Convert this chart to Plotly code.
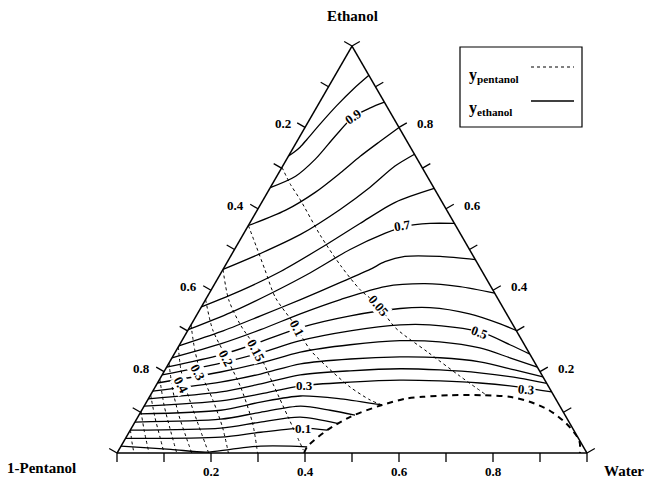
import plotly.graph_objects as go

# ---------------- data ----------------
# y_ethanol contours (solid): water fraction / ethanol fraction along each line
ye_levels = [0.95, 0.9, 0.85, 0.8, 0.75, 0.7, 0.65, 0.6, 0.55, 0.5, 0.45, 0.4, 0.35, 0.3, 0.25, 0.2, 0.15, 0.1, 0.05]

ye95_w = [0.000, 0.007, 0.014, 0.019, 0.028, 0.041, 0.056, 0.072]
ye95_e = [0.730, 0.739, 0.752, 0.771, 0.808, 0.854, 0.895, 0.928]
ye90_w = [0.000, 0.040, 0.061, 0.075, 0.090, 0.115, 0.138]
ye90_e = [0.652, 0.680, 0.722, 0.779, 0.826, 0.848, 0.862]
ye85_w = [0.000, 0.060, 0.102, 0.131, 0.153, 0.177, 0.200]
ye85_e = [0.559, 0.596, 0.641, 0.688, 0.729, 0.766, 0.800]
ye80_w = [0.000, 0.060, 0.122, 0.176, 0.212, 0.239, 0.266]
ye80_e = [0.451, 0.490, 0.537, 0.599, 0.653, 0.705, 0.734]
ye75_w = [0.000, 0.064, 0.125, 0.181, 0.235, 0.284, 0.350]
ye75_e = [0.359, 0.399, 0.446, 0.503, 0.564, 0.616, 0.650]
ye70_w = [0.000, 0.069, 0.131, 0.190, 0.246, 0.301, 0.334, 0.384, 0.436]
ye70_e = [0.303, 0.345, 0.392, 0.443, 0.500, 0.540, 0.557, 0.564, 0.564]
ye65_w = [0.000, 0.072, 0.137, 0.202, 0.266, 0.313, 0.335, 0.371, 0.446, 0.525]
ye65_e = [0.263, 0.298, 0.337, 0.377, 0.419, 0.451, 0.470, 0.483, 0.483, 0.475]
ye60_w = [0.000, 0.086, 0.154, 0.219, 0.287, 0.366, 0.447, 0.525, 0.607]
ye60_e = [0.234, 0.268, 0.303, 0.342, 0.377, 0.409, 0.416, 0.409, 0.393]
ye55_w = [0.000, 0.100, 0.169, 0.236, 0.328, 0.425, 0.487, 0.579, 0.655, 0.699]
ye55_e = [0.211, 0.241, 0.273, 0.308, 0.337, 0.355, 0.357, 0.342, 0.318, 0.301]
ye50_w = [0.000, 0.110, 0.182, 0.252, 0.346, 0.445, 0.508, 0.623, 0.703, 0.757]
ye50_e = [0.192, 0.221, 0.246, 0.276, 0.300, 0.315, 0.315, 0.298, 0.266, 0.243]
ye45_w = [0.000, 0.121, 0.195, 0.266, 0.363, 0.464, 0.550, 0.643, 0.719, 0.789]
ye45_e = [0.172, 0.199, 0.221, 0.248, 0.266, 0.276, 0.273, 0.258, 0.234, 0.211]
ye40_w = [0.000, 0.133, 0.208, 0.281, 0.381, 0.484, 0.570, 0.660, 0.744, 0.813]
ye40_e = [0.152, 0.174, 0.194, 0.219, 0.231, 0.236, 0.234, 0.224, 0.204, 0.187]
ye35_w = [0.000, 0.146, 0.221, 0.294, 0.395, 0.499, 0.585, 0.673, 0.764, 0.829]
ye35_e = [0.133, 0.150, 0.170, 0.192, 0.202, 0.207, 0.204, 0.197, 0.184, 0.171]
ye30_w = [0.000, 0.157, 0.233, 0.308, 0.409, 0.512, 0.599, 0.686, 0.776, 0.850]
ye30_e = [0.115, 0.128, 0.145, 0.165, 0.174, 0.179, 0.177, 0.172, 0.162, 0.150]
ye25_w = [0.000, 0.168, 0.243, 0.320, 0.409, 0.505]
ye25_e = [0.096, 0.105, 0.125, 0.140, 0.133, 0.118]
ye20_w = [0.000, 0.179, 0.255, 0.333, 0.401, 0.460]
ye20_e = [0.076, 0.083, 0.100, 0.115, 0.105, 0.093]
ye15_w = [0.000, 0.190, 0.267, 0.346, 0.435]
ye15_e = [0.056, 0.061, 0.076, 0.088, 0.072]
ye10_w = [0.000, 0.201, 0.280, 0.366, 0.419]
ye10_e = [0.036, 0.039, 0.051, 0.061, 0.056]
ye05_w = [0.000, 0.110, 0.188, 0.237, 0.297, 0.361, 0.397]
ye05_e = [0.017, 0.009, 0.002, 0.009, 0.017, 0.017, 0.015]

# y_pentanol contours (dotted)
yp_levels = [0.05, 0.1, 0.15, 0.2, 0.3, 0.4, 0.5, 0.6, 0.7, 0.8, 0.9]
yp05_w = [0.000, 0.039, 0.078, 0.165, 0.245, 0.317, 0.373, 0.438, 0.537, 0.635, 0.710]
yp05_e = [0.702, 0.660, 0.623, 0.535, 0.461, 0.401, 0.364, 0.308, 0.248, 0.189, 0.145]
yp10_w = [0.000, 0.043, 0.089, 0.146, 0.215, 0.285, 0.342, 0.415, 0.474, 0.505]
yp10_e = [0.559, 0.507, 0.451, 0.382, 0.320, 0.253, 0.211, 0.162, 0.130, 0.118]
yp15_w = [0.000, 0.049, 0.105, 0.172, 0.245, 0.322, 0.393]
yp15_e = [0.451, 0.377, 0.315, 0.253, 0.172, 0.086, 0.007]
yp20_w = [0.000, 0.052, 0.116, 0.182, 0.252, 0.299]
yp20_e = [0.377, 0.303, 0.234, 0.162, 0.073, 0.000]
yp30_w = [0.000, 0.039, 0.080, 0.139, 0.193, 0.237]
yp30_e = [0.315, 0.253, 0.197, 0.130, 0.063, 0.000]
yp40_w = [0.000, 0.034, 0.074, 0.129, 0.195]
yp40_e = [0.261, 0.204, 0.150, 0.081, 0.000]
yp50_w = [0.000, 0.041, 0.085, 0.126, 0.159]
yp50_e = [0.221, 0.155, 0.093, 0.041, 0.000]
yp60_w = [0.000, 0.041, 0.082, 0.127]
yp60_e = [0.182, 0.118, 0.061, 0.000]
yp70_w = [0.000, 0.038, 0.072, 0.100]
yp70_e = [0.143, 0.086, 0.039, 0.000]
yp80_w = [0.000, 0.031, 0.068]
yp80_e = [0.102, 0.054, 0.000]
yp90_w = [0.000, 0.017, 0.036]
yp90_e = [0.057, 0.029, 0.000]

# binodal (phase boundary, dashed)
bin_w = [0.398, 0.397, 0.419, 0.452, 0.505, 0.549, 0.582, 0.637, 0.707, 0.766, 0.815, 0.867, 0.919, 0.968, 0.985]
bin_e = [0.000, 0.015, 0.056, 0.089, 0.118, 0.134, 0.138, 0.142, 0.142, 0.138, 0.126, 0.105, 0.073, 0.031, 0.000]

# contour labels: text, water, ethanol, angle
ye_lab_text = ["0.9", "0.7", "0.5", "0.3", "0.3", "0.1"]
ye_lab_w = [0.090, 0.329, 0.624, 0.315, 0.793, 0.367]
ye_lab_e = [0.826, 0.559, 0.295, 0.167, 0.157, 0.059]
ye_lab_ang = [-35, -8, 20, 0, 5, 0]
yp_lab_text = ["0.05", "0.1", "0.15", "0.2", "0.3", "0.4"]
yp_lab_w = [0.375, 0.228, 0.170, 0.114, 0.073, 0.054]
yp_lab_e = [0.362, 0.308, 0.253, 0.234, 0.197, 0.167]
yp_lab_ang = [50, 62, 62, 62, 62, 62]

tick_vals = [0, 0.1, 0.2, 0.3, 0.4, 0.5, 0.6, 0.7, 0.8, 0.9, 1.0]
tick_labels = [0.2, 0.4, 0.6, 0.8]

# ---------------- figure ----------------
W_PX, H_PX = 645, 481
X0, X1, YB, YT = 117, 587, 453, 46          # triangle box in pixels
DX = [X0 / W_PX, X1 / W_PX]
DY = [1 - YB / H_PX, 1 - YT / H_PX]
SERIF = "Liberation Serif, Times New Roman, serif"
TICK_LEN = 9


def to_abc(w, e):
    a = list(e)
    c = list(w)
    b = [max(0.0, 1 - ei - wi) for ei, wi in zip(e, w)]
    return a, b, c


def to_px(w, e):
    return X0 + (X1 - X0) * (w + e / 2), YB - (YB - YT) * e


def px_to_paper(px, py):
    return px / W_PX, 1 - py / H_PX


fig = go.Figure()

solid = [(ye95_w, ye95_e), (ye90_w, ye90_e), (ye85_w, ye85_e), (ye80_w, ye80_e), (ye75_w, ye75_e),
         (ye70_w, ye70_e), (ye65_w, ye65_e), (ye60_w, ye60_e), (ye55_w, ye55_e), (ye50_w, ye50_e),
         (ye45_w, ye45_e), (ye40_w, ye40_e), (ye35_w, ye35_e), (ye30_w, ye30_e), (ye25_w, ye25_e),
         (ye20_w, ye20_e), (ye15_w, ye15_e), (ye10_w, ye10_e), (ye05_w, ye05_e)]
dotted = [(yp05_w, yp05_e), (yp10_w, yp10_e), (yp15_w, yp15_e), (yp20_w, yp20_e), (yp30_w, yp30_e),
          (yp40_w, yp40_e), (yp50_w, yp50_e), (yp60_w, yp60_e), (yp70_w, yp70_e), (yp80_w, yp80_e),
          (yp90_w, yp90_e)]

for lvl, (w, e) in zip(yp_levels, dotted):
    a, b, c = to_abc(w, e)
    fig.add_trace(go.Scatterternary(a=a, b=b, c=c, mode="lines", name=f"y_pentanol={lvl}",
                                    line=dict(color="black", width=1, dash="dot", shape="spline", smoothing=0.8),
                                    showlegend=False, hoverinfo="skip"))

for lvl, (w, e) in zip(ye_levels, solid):
    a, b, c = to_abc(w, e)
    fig.add_trace(go.Scatterternary(a=a, b=b, c=c, mode="lines", name=f"y_ethanol={lvl}",
                                    line=dict(color="black", width=1.3, shape="spline", smoothing=0.8),
                                    showlegend=False, hoverinfo="skip"))

a, b, c = to_abc(bin_w, bin_e)
fig.add_trace(go.Scatterternary(a=a, b=b, c=c, mode="lines", name="binodal",
                                line=dict(color="black", width=2, dash="6px,5px", shape="spline", smoothing=0.8),
                                showlegend=False, hoverinfo="skip"))

ax = dict(title=dict(text=""), showticklabels=False, ticks="", showline=True, linecolor="black",
          linewidth=1.5, showgrid=False, min=0)

fig.update_layout(
    width=W_PX, height=H_PX,
    margin=dict(l=0, r=0, t=0, b=0),
    paper_bgcolor="white",
    showlegend=False,
    ternary=dict(domain=dict(x=DX, y=DY), bgcolor="white", sum=1,
                 aaxis=ax, baxis=ax, caxis=ax),
)

shapes = []
anns = []

# perpendicular outside ticks on the three edges
edges = {
    "left": (lambda v: (0.0, v), (-0.866, -0.5)),     # pentanol scale
    "bottom": (lambda v: (v, 0.0), (0.0, 1.0)),       # water scale
    "right": (lambda v: (1 - v, v), (0.866, -0.5)),   # ethanol scale
}
for name, (pos, (ux, uy)) in edges.items():
    for v in tick_vals:
        px, py = to_px(*pos(v))
        qx, qy = px + ux * TICK_LEN, py + uy * TICK_LEN
        p0 = px_to_paper(px, py)
        p1 = px_to_paper(qx, qy)
        shapes.append(dict(type="line", xref="paper", yref="paper", x0=p0[0], y0=p0[1], x1=p1[0], y1=p1[1],
                           line=dict(color="black", width=1.3)))

tick_font = dict(family=SERIF, size=13, color="black")
for t in tick_labels:
    # left edge: pentanol fraction t  -> ethanol 1 - t on that edge
    px, py = to_px(0.0, 1 - t)
    qx, qy = px - 0.866 * TICK_LEN, py - 0.5 * TICK_LEN
    x, y = px_to_paper(qx - 4, qy + 1)
    anns.append(dict(x=x, y=y, xref="paper", yref="paper", xanchor="right", yanchor="middle",
                     text=f"<b>{t:.1f}</b>", showarrow=False, font=tick_font))
    # bottom edge: water fraction t
    px, py = to_px(t, 0.0)
    x, y = px_to_paper(px, 481)
    anns.append(dict(x=x, y=y, xref="paper", yref="paper", xanchor="center", yanchor="bottom",
                     text=f"<b>{t:.1f}</b>", showarrow=False, font=tick_font))
    # right edge: ethanol fraction t
    px, py = to_px(1 - t, t)
    qx, qy = px + 0.866 * TICK_LEN, py - 0.5 * TICK_LEN
    x, y = px_to_paper(qx + 8, qy + 1)
    anns.append(dict(x=x, y=y, xref="paper", yref="paper", xanchor="left", yanchor="middle",
                     text=f"<b>{t:.1f}</b>", showarrow=False, font=tick_font))

# contour labels
for t, w, e, ang in zip(ye_lab_text + yp_lab_text, ye_lab_w + yp_lab_w, ye_lab_e + yp_lab_e, ye_lab_ang + yp_lab_ang):
    x, y = px_to_paper(*to_px(w, e))
    anns.append(dict(x=x, y=y, xref="paper", yref="paper", xanchor="center", yanchor="middle",
                     text=f"<b>{t}</b>", showarrow=False, textangle=ang,
                     font=dict(family=SERIF, size=13, color="black"), bgcolor="white", borderpad=0))

# corner titles
title_font = dict(family=SERIF, size=15, color="black")
for txt, px, py in [("Ethanol", 352, 16), ("1-Pentanol", 41, 468), ("Water", 624, 471)]:
    x, y = px_to_paper(px, py)
    anns.append(dict(x=x, y=y, xref="paper", yref="paper", xanchor="center", yanchor="middle",
                     text=f"<b>{txt}</b>", showarrow=False, font=title_font))

# legend box (text left, line sample right)
for txt, py in [("y<sub>pentanol</sub>", 75), ("y<sub>ethanol</sub>", 109)]:
    x, y = px_to_paper(467, py)
    anns.append(dict(x=x, y=y, xref="paper", yref="paper", xanchor="left", yanchor="middle",
                     text=f"<b>{txt}</b>", showarrow=False, font=dict(family=SERIF, size=16, color="black")))

shapes += [
    dict(type="rect", xref="paper", yref="paper", x0=460 / W_PX, x1=582 / W_PX, y0=1 - 127 / H_PX, y1=1 - 47 / H_PX,
         line=dict(color="black", width=1.2), fillcolor="rgba(0,0,0,0)"),
    dict(type="line", xref="paper", yref="paper", x0=531 / W_PX, x1=574 / W_PX, y0=1 - 67 / H_PX, y1=1 - 67 / H_PX,
         line=dict(color="black", width=1, dash="dot")),
    dict(type="line", xref="paper", yref="paper", x0=531 / W_PX, x1=574 / W_PX, y0=1 - 101 / H_PX, y1=1 - 101 / H_PX,
         line=dict(color="black", width=1.3)),
]
fig.update_layout(annotations=anns, shapes=shapes)

fig.write_html("out.html")
